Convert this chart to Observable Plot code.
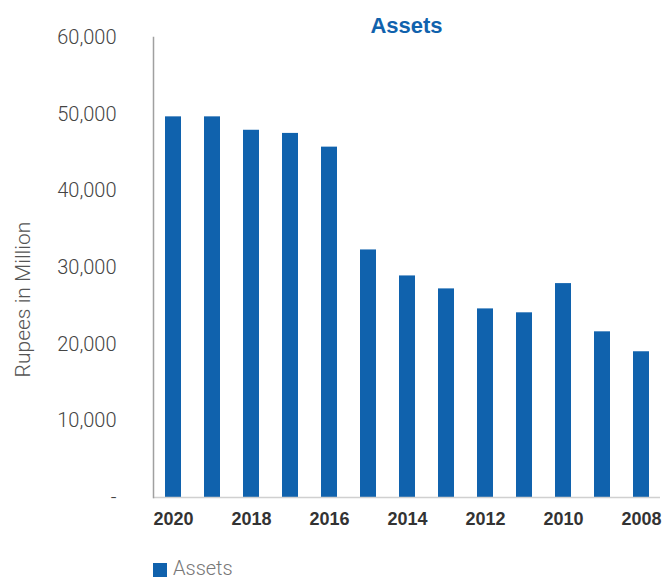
<!DOCTYPE html>
<html>
<head>
<meta charset="utf-8">
<script src="https://cdn.jsdelivr.net/npm/d3@7"></script>
<script src="https://cdn.jsdelivr.net/npm/@observablehq/plot@0.6"></script>
<style>
  body { margin: 0; background: #fff; font-family: "Liberation Sans", Arial, sans-serif; overflow: hidden; }
  #wrap { position: relative; width: 663px; height: 579px; }
  #title { position: absolute; left: 153px; width: 507px; top: 13px; text-align: center;
           color: #1062ad; font-weight: bold; font-size: 22px; }
  #legend-sw { position: absolute; left: 153px; top: 563px; width: 14px; height: 14px; background: #1062ad; }
  #legend-tx { position: absolute; left: 173px; top: 558px; font-family: Roboto, sans-serif; font-weight: 300;
            font-size: 20px; line-height: 20px; color: #777; }
  #chart { position: absolute; left: 0; top: 0; }
</style>
</head>
<body>
<div id="wrap">
  <div id="chart"></div>
  <div id="title">Assets</div>
  <div id="legend-sw"></div>
  <div id="legend-tx">Assets</div>
</div>
<script>
const years = ["2020","2019","2018","2017","2016","2015","2014","2013","2012","2011","2010","2009","2008"];
const assets = [49650, 49650, 47900, 47490, 45700, 32290, 28900, 27210, 24600, 24090, 27900, 21610, 19010];
const yTicks = [0, 10000, 20000, 30000, 40000, 50000, 60000];
const xTickLabels = ["2020","2018","2016","2014","2012","2010","2008"];
const yLabel = "Rupees in Million";

const data = years.map((y, i) => ({year: y, value: assets[i]}));

const chart = Plot.plot({
  width: 663,
  height: 545,
  marginLeft: 153,
  marginRight: 3,
  marginTop: 37,
  marginBottom: 48,
  style: {fontFamily: "'Liberation Sans', Arial, sans-serif", background: "transparent"},
  x: {domain: years, paddingInner: 0.59, paddingOuter: 0.295, align: 0.5},
  y: {domain: [0, 60000]},
  marks: [
    Plot.barY(data, {x: "year", y: "value", fill: "#1062ad"}),
    Plot.ruleY([0], {stroke: "#d0d0d0", strokeWidth: 1.5}),
    Plot.frame({anchor: "left", stroke: "#a0a0a0", strokeWidth: 1.5}),
    Plot.axisY({ticks: yTicks, tickSize: 0, tickPadding: 37, label: null,
      tickFormat: d => d === 0 ? "-" : d3.format(",")(d),
      fontSize: 20, fill: "#444", fontFamily: "Roboto, sans-serif", fontWeight: 300}),
    Plot.axisX({ticks: xTickLabels, tickSize: 0, tickPadding: 15, label: null,
      fontSize: 18, fontWeight: "bold", fill: "#333"}),
    Plot.text([yLabel], {text: d => d, frameAnchor: "left", textAnchor: "middle", rotate: -90, dx: -130, dy: 32,
      fontSize: 21, fill: "#555", fontFamily: "Roboto, sans-serif", fontWeight: 300})
  ]
});
document.getElementById("chart").appendChild(chart);
</script>
</body>
</html>
